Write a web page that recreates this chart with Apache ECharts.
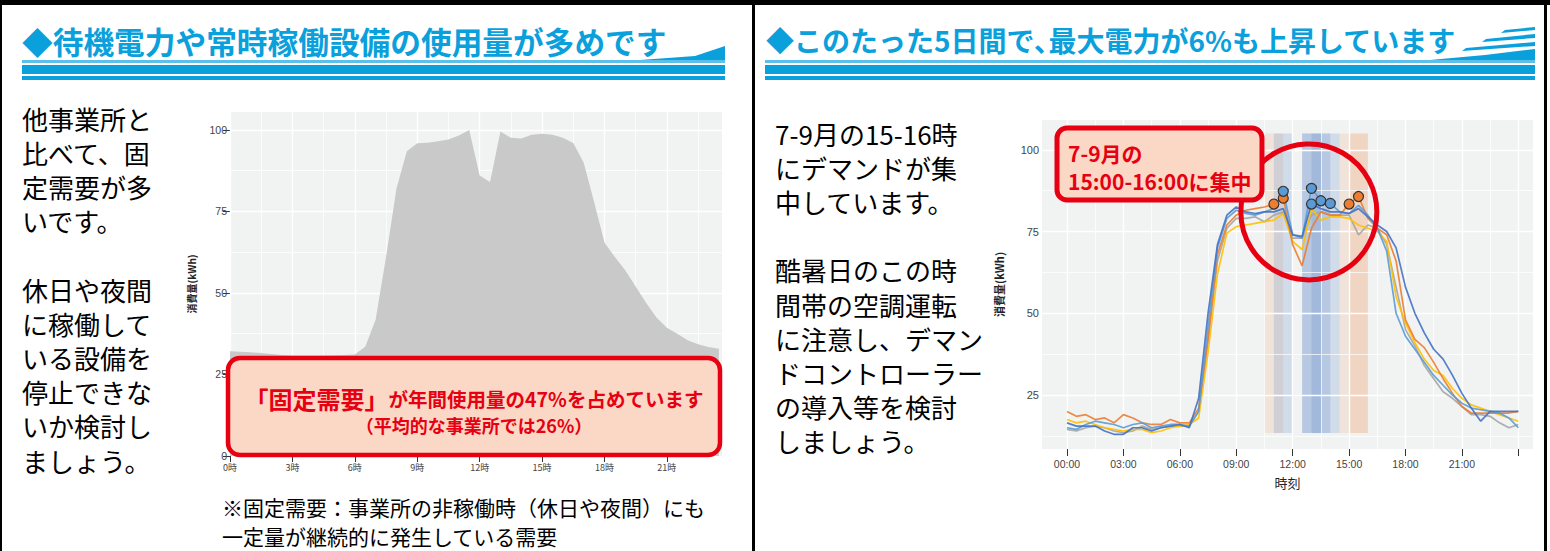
<!DOCTYPE html>
<html><head><meta charset="utf-8">
<script src="https://cdn.jsdelivr.net/npm/echarts@6/dist/echarts.min.js"></script>
<style>html,body{margin:0;padding:0;background:#fff;}#c{width:1550px;height:551px;}</style>
</head><body><div id="c"></div>
<script>
// ---------- DATA ----------
// Left chart: average daily load profile (half-hour)
const hoursLeft = [0,0.5,1,1.5,2,2.5,3,3.5,4,4.5,5,5.5,6,6.5,7,7.5,8,8.5,9,9.5,10,10.5,11,11.5,12,12.5,13,13.5,14,14.5,15,15.5,16,16.5,17,17.5,18,18.5,19,19.5,20,20.5,21,21.5,22,22.5,23,23.5];
const loadLeft = [32.1,32.0,31.8,31.6,31.3,31.0,30.8,30.8,30.8,30.8,30.9,31.0,31.1,33.5,41.8,61,82,93.5,95.9,96.1,96.5,97.1,98.3,100,86,84,99.5,97.6,97.4,98.5,98.8,98.5,97.6,96,90,78,65.5,61,57,52,47,42.5,39.3,37.5,35.5,34.3,33.4,32.9];
const leftYTicks = [0,25,50,75,100];
const leftXTicks = [0,3,6,9,12,15,18,21];
const leftGridX = [0,1.5,3,4.5,6,7.5,9,10.5,12,13.5,15,16.5,18,19.5,21,22.5];
const leftGridY = [12.5,25,37.5,50,62.5,75,87.5,100];

// Right chart: five hot days (half-hour)
const hoursRight = [0,0.5,1,1.5,2,2.5,3,3.5,4,4.5,5,5.5,6,6.5,7,7.5,8,8.5,9,9.5,10,10.5,11,11.5,12,12.5,13,13.5,14,14.5,15,15.5,16,16.5,17,17.5,18,18.5,19,19.5,20,20.5,21,21.5,22,22.5,23,23.5,24];
const dayGray = [14.5,14,15,15.5,15,14,13.5,14,15.5,14.5,15,15.5,15.5,15.5,20,42,66,76,79,79,79.5,78,80,81,73,73,80,81,80,80,80,74,77,76,71,58,45,40,34,30,26,24,21.5,19,19,18.5,16.5,15,16];
const dayYellow = [17.5,16.5,17,16,15,14.5,14,14.5,14.5,13.5,14,15,15.5,16,18,38,62,74.5,76.5,77,77.5,78,78.5,80.5,72,69.5,82,78.5,79.5,79.5,79,77,76,75,72,55,47,41,36,32.5,31,27,24,22,21,20,19,18,17];
const dayOrange = [20,18.5,19,17.5,18,16.5,19,18,16.5,16,16,17.5,16.5,16.5,21,42,68,77,80,81.5,82,82.5,83.4,85.2,71,64.5,76,81,80,80,83.4,85.7,79,76,74,66,48,42,39.5,35,30,25.5,21.5,19.5,19.5,19.5,19.5,19.5,20];
const dayLightBlue = [15,14.5,16,17,16.5,16,15,16,16.5,15,15.5,16,16,15.5,20,46,70,79,81.5,80.5,80,81,82,87.3,74,73,88.2,84.4,83.6,81,80.5,83,80,76,69,50,43,39,35,31,28,25,22.5,21,20.5,20,19.5,18,15];
const dayDarkBlue = [16.5,15.5,15.5,15.5,14,13,13,15,15,14,15,15.5,16,15,24,50,71,80,82.5,81,80.5,81,81,82,74,73.5,83.4,82,81,81,80.5,82,79.5,77,75,70,58,50,44,39,36,31,25.5,21,17,20,20,20,20];
const peaksBlue = [[11.5,87.3],[13,88.2],[13,83.4],[13.5,84.4],[14,83.6]];
const peaksOrange = [[11,83.4],[11.5,85.2],[15,83.4],[15.5,85.7]];
const bandsOrange = [[10.5,11.5],[14.5,16],[15,16]];
const bandsBlue = [[11,12],[12.5,14.5],[12.5,14],[13,13.5]];
const bandRange = [13.4,105];
const rightXTicks = [0,3,6,9,12,15,18,21,24];
const rightXLabels = [0,3,6,9,12,15,18,21];
const rightYTicks = [25,50,75,100];
const rightGridX = [0,1.5,3,4.5,6,7.5,9,10.5,12,13.5,15,16.5,18,19.5,21,22.5,24];
const rightGridY = [12.5,25,37.5,50,62.5,75,87.5,100];
const circleAnchor = [12.86,81];

// ---------- STYLE ----------
const CJK = '"Noto Sans CJK JP", "Noto Sans CJK SC", sans-serif';
const SANS = '"Liberation Sans", Arial, sans-serif';
const HC = '#0aa0dc';
const RED = '#e60012';
const PEACH = '#fbd7c5';
const PANEL = '#f1f3f3';

const chart = echarts.init(document.getElementById('c'), null, {renderer:'svg', width:1550, height:551});

function gridLineSeries(xi, yi, xs, ys, xMajor, yMajor){
  return {type:'line', xAxisIndex:xi, yAxisIndex:yi, data:[], silent:true,
    markLine:{silent:true, z:1, symbol:['none','none'], animation:false, label:{show:false}, emphasis:{disabled:true},
      data: xs.map(v=>({xAxis:v, lineStyle:{color:'#ffffff', type:'solid', width: v%xMajor===0?1.4:0.7}}))
        .concat(ys.map(v=>({yAxis:v, lineStyle:{color:'#ffffff', type:'solid', width: v%yMajor===0?1.4:0.7}})))}};
}
function bandItems(list, color){
  return list.map(b=>[{xAxis:b[0], yAxis:bandRange[0], itemStyle:{color:color}},{xAxis:b[1], yAxis:bandRange[1]}]);
}
function lineSeries(vals, color){
  return {type:'line', xAxisIndex:1, yAxisIndex:1, symbol:'none', z:2,
    lineStyle:{color:color, width:1.7, opacity:0.9}, itemStyle:{color:color},
    data: hoursRight.map((h,i)=>[h, vals[i]])};
}
const tickStyle = {color:'#333', width:1};

const option = {
  animation:false,
  backgroundColor:'#ffffff',
  grid:[
    {left:230, top:112, width:492, height:344, show:true, backgroundColor:PANEL, borderWidth:0},
    {left:1042, top:120, width:491, height:329, show:true, backgroundColor:PANEL, borderWidth:0}
  ],
  xAxis:[
    {gridIndex:0, type:'value', min:0, max:23.65, axisLine:{show:false}, splitLine:{show:false},
      axisTick:{show:true, customValues:leftXTicks, length:6, lineStyle:tickStyle},
      axisLabel:{customValues:leftXTicks, formatter:v=>v+'時', fontSize:9, color:'#444', margin:7, fontFamily:CJK}},
    {gridIndex:1, type:'value', min:-1.33, max:24.78, axisLine:{show:false}, splitLine:{show:false},
      axisTick:{show:true, customValues:rightXTicks, length:7, lineStyle:tickStyle},
      axisLabel:{customValues:rightXLabels, formatter:v=>(v<10?'0':'')+v+':00', fontSize:10.5, color:'#444', margin:9, fontFamily:SANS},
      name:'時刻', nameLocation:'middle', nameGap:27, nameTextStyle:{fontSize:13, color:'#222', fontFamily:CJK}}
  ],
  yAxis:[
    {gridIndex:0, type:'value', min:0, max:105.5, axisLine:{show:false}, splitLine:{show:false},
      axisTick:{show:true, customValues:leftYTicks, length:7, lineStyle:tickStyle},
      axisLabel:{customValues:leftYTicks, fontSize:10.5, color:'#444', margin:3, fontFamily:SANS},
      name:'消費量(kWh)', nameLocation:'middle', nameRotate:90, nameGap:34, nameTextStyle:{fontSize:10, fontWeight:'bold', color:'#222', fontFamily:CJK}},
    {gridIndex:1, type:'value', min:8.5, max:109.1, axisLine:{show:false}, splitLine:{show:false},
      axisTick:{show:true, customValues:rightYTicks, length:7, lineStyle:tickStyle},
      axisLabel:{customValues:rightYTicks, fontSize:11, color:'#444', margin:3, fontFamily:SANS},
      name:'消費量(kWh)', nameLocation:'middle', nameRotate:90, nameGap:38, nameTextStyle:{fontSize:11, fontWeight:'bold', color:'#222', fontFamily:CJK}}
  ],
  series:[
    gridLineSeries(0,0,leftGridX,leftGridY,3,25),
    {type:'line', xAxisIndex:0, yAxisIndex:0, symbol:'none', z:2, smooth:false,
      lineStyle:{width:0, color:'#c9c9c9'}, areaStyle:{color:'#c9c9c9', opacity:1},
      data: hoursLeft.map((h,i)=>[h, loadLeft[i]])},
    gridLineSeries(1,1,rightGridX,rightGridY,3,25),
    {type:'line', xAxisIndex:1, yAxisIndex:1, data:[], silent:true,
      markArea:{silent:true, z:1, animation:false, label:{show:false}, emphasis:{disabled:true},
        data: bandItems(bandsOrange,'rgba(237,125,49,0.13)').concat(bandItems(bandsBlue,'rgba(68,114,196,0.18)'))}},
    lineSeries(dayGray,'#a5a5a5'),
    lineSeries(dayYellow,'#ffc000'),
    lineSeries(dayOrange,'#ed7d31'),
    lineSeries(dayLightBlue,'#5b9bd5'),
    lineSeries(dayDarkBlue,'#4472c4'),
    {type:'scatter', xAxisIndex:1, yAxisIndex:1, z:4, symbolSize:10, data:peaksOrange,
      itemStyle:{color:'#ed7d31', borderColor:'#333', borderWidth:1.2, opacity:1}},
    {type:'scatter', xAxisIndex:1, yAxisIndex:1, z:4, symbolSize:10, data:peaksBlue,
      itemStyle:{color:'#5b9bd5', borderColor:'#333', borderWidth:1.2, opacity:1}}
  ]
};
chart.setOption(option);

const cp = chart.convertToPixel({gridIndex:1}, circleAnchor);

const leftLines = ['他事業所と','比べて、固','定需要が多','いです。','','休日や夜間','に稼働して','いる設備を','停止できな','いか検討し','ましょう。'];
const rightLines = ['7-9月の15-16時','にデマンドが集','中しています。','','酷暑日のこの時','間帯の空調運転','に注意し、デマン','ドコントローラー','の導入等を検討','しましょう。'];

const g = [];
// frame lines
g.push({type:'rect', z:200, shape:{x:0,y:0,width:1550,height:5}, style:{fill:'#000'}});
g.push({type:'rect', z:200, shape:{x:0,y:0,width:2,height:551}, style:{fill:'#000'}});
g.push({type:'rect', z:200, shape:{x:752,y:0,width:3,height:551}, style:{fill:'#000'}});
g.push({type:'rect', z:200, shape:{x:1544,y:0,width:3,height:551}, style:{fill:'#000'}});
// headers
g.push({type:'text', z:50, x:22, y:40, style:{text:'◆待機電力や常時稼働設備の使用量が多めです', fontSize:30.7, fontWeight:'bold', fill:HC, fontFamily:CJK, verticalAlign:'middle'}});
g.push({type:'text', z:50, x:766, y:40, style:{text:'◆このたった5日間で､最大電力が6%も上昇しています', fontSize:28, fontWeight:'bold', fill:HC, fontFamily:CJK, verticalAlign:'middle'}});
[[22,725],[765,1535]].forEach(([a,b])=>{
  g.push({type:'rect', z:50, shape:{x:a,y:60,width:b-a,height:3}, style:{fill:'#5cc0ea'}});
  g.push({type:'rect', z:50, shape:{x:a,y:65,width:b-a,height:9}, style:{fill:HC}});
  g.push({type:'rect', z:50, shape:{x:a,y:76,width:b-a,height:4}, style:{fill:HC}});
});
g.push({type:'polygon', z:50, shape:{points:[[640,60],[695,56],[725,46],[725,60]]}, style:{fill:HC}});
g.push({type:'polygon', z:50, shape:{points:[[1430,60],[1485,55],[1535,49],[1535,60]]}, style:{fill:HC}});
g.push({type:'polygon', z:50, shape:{points:[[1466,48],[1535,42],[1535,46],[1462,51]]}, style:{fill:HC}});
g.push({type:'polygon', z:50, shape:{points:[[1486,39],[1535,34],[1535,38],[1482,42]]}, style:{fill:HC}});
g.push({type:'polygon', z:50, shape:{points:[[1505,30],[1535,27],[1535,30],[1501,33]]}, style:{fill:HC}});
// body texts
g.push({type:'text', z:50, x:22, y:101, style:{text:leftLines.join('\n'), fontSize:26, lineHeight:34.2, fill:'#000', fontFamily:CJK, verticalAlign:'top'}});
g.push({type:'text', z:50, x:775, y:116, style:{text:rightLines.join('\n'), fontSize:26, lineHeight:34.2, fill:'#000', fontFamily:CJK, verticalAlign:'top'}});
g.push({type:'text', z:50, x:222, y:507, style:{text:'※固定需要：事業所の非稼働時（休日や夜間）にも', fontSize:21, fill:'#000', fontFamily:CJK, verticalAlign:'middle'}});
g.push({type:'text', z:50, x:222, y:536, style:{text:'一定量が継続的に発生している需要', fontSize:21, fill:'#000', fontFamily:CJK, verticalAlign:'middle'}});
// left callout
g.push({type:'rect', z:100, shape:{x:228,y:358,width:492,height:97,r:12}, style:{fill:PEACH, stroke:RED, lineWidth:4.5}});
g.push({type:'text', z:101, x:474, y:398, style:{text:'{a|「固定需要」}{b|が年間使用量の47%を占めています}', align:'center', verticalAlign:'middle', fill:RED, fontFamily:CJK, fontWeight:'bold',
  rich:{a:{fontSize:24, fontWeight:'bold', fill:RED, fontFamily:CJK}, b:{fontSize:19.5, fontWeight:'bold', fill:RED, fontFamily:CJK}}}});
g.push({type:'text', z:101, x:474, y:425, style:{text:'（平均的な事業所では26%）', align:'center', verticalAlign:'middle', fontSize:18, fontWeight:'bold', fill:RED, fontFamily:CJK}});
// right callout
g.push({type:'circle', z:100, shape:{cx:cp[0], cy:cp[1], r:68}, style:{fill:'none', stroke:RED, lineWidth:5}});
g.push({type:'rect', z:101, shape:{x:1057,y:128,width:205,height:72,r:10}, style:{fill:PEACH, stroke:RED, lineWidth:5}});
g.push({type:'text', z:102, x:1068, y:139, style:{text:'7-9月の\n15:00-16:00に集中', fontSize:21, lineHeight:28, fontWeight:'bold', fill:RED, fontFamily:CJK, verticalAlign:'top'}});

chart.setOption({graphic:g});
</script>
</body></html>
